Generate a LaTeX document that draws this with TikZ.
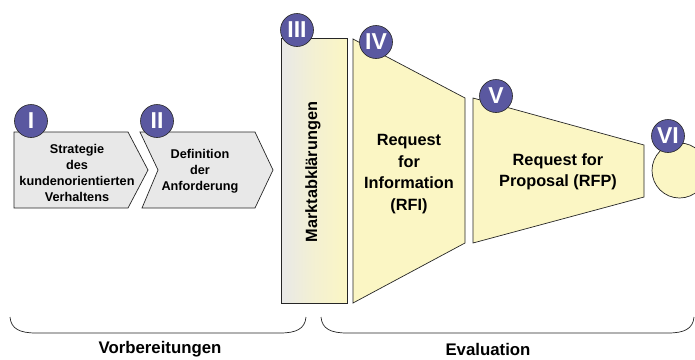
\documentclass[tikz,border=0pt]{standalone}
\usepackage{fontspec}
\setmainfont{Liberation Sans}
\definecolor{badgeblue}{HTML}{5A58A0}
\definecolor{paleyellow}{HTML}{FBF6C4}
\definecolor{palegray}{HTML}{E8E8E8}
\begin{document}
\begin{tikzpicture}[x=1pt,y=-1pt,
  outline/.style={draw=black!85, line width=0.7pt},
  badge/.style={circle, fill=badgeblue, draw=black!85, line width=0.6pt, minimum size=33pt, inner sep=0pt, text=white, font=\bfseries\fontsize{23}{23}\selectfont},
  small/.style={align=center, font=\bfseries\fontsize{12.7}{16}\selectfont},
  big/.style={align=center, font=\bfseries\fontsize{16.3}{21.5}\selectfont},
  label/.style={font=\bfseries\fontsize{16.8}{18}\selectfont}]
\useasboundingbox (0,0) rectangle (695,359);
% step shapes
\path[outline, fill=palegray] (14,132) -- (128,132) -- (148,170) -- (128,208) -- (14,208) -- cycle;
\path[outline, fill=palegray] (140,132) -- (255,132) -- (273,170) -- (255,208) -- (142,208) -- (158,170) -- cycle;
\shade[left color=palegray, right color=paleyellow, middle color=palegray!40!paleyellow] (281,38) rectangle (347,303);
\draw[outline] (281,38) rectangle (347,303);
\path[outline, fill=paleyellow] (353,39) -- (465,98) -- (465,243) -- (353,303) -- cycle;
\path[outline, fill=paleyellow] (473,98) -- (644,145) -- (644,197) -- (473,243) -- cycle;
\path[outline, fill=paleyellow] (679.5,170.5) circle[radius=27.5];
% texts
\node[small] (t1) at (77,173) {Strategie\\des\\kundenorientierten\\Verhaltens};
\node[small] (t2) at (200,171) {Definition\\der\\Anforderung};
\node[big, rotate=90] (t3) at (313,172) {Marktabklärungen};
\node[big] (t4) at (409,174) {Request\\for\\Information\\(RFI)};
\node[big] (t5) at (558,172) {Request for\\Proposal (RFP)};
% badges
\node[badge] (b1) at (31,121) {I};
\node[badge] (b2) at (157,121) {II};
\node[badge] (b3) at (297,30) {III};
\node[badge] (b4) at (376,42) {IV};
\node[badge] (b5) at (496,96) {V};
\node[badge] (b6) at (668,136) {VI};
% braces
\draw[black!85, line width=0.7pt] (10,317) .. controls (11,329) and (20,333) .. (36,333) -- (280,333) .. controls (296,333) and (305,329) .. (306,317);
\draw[black!85, line width=0.7pt] (321,317) .. controls (322,329) and (331,333) .. (347,333) -- (668,333) .. controls (684,333) and (693,329) .. (694,317);
\node[label] (l1) at (160,349) {Vorbereitungen};
\node[label] (l2) at (488,349) {Evaluation};
\end{tikzpicture}
\end{document}
